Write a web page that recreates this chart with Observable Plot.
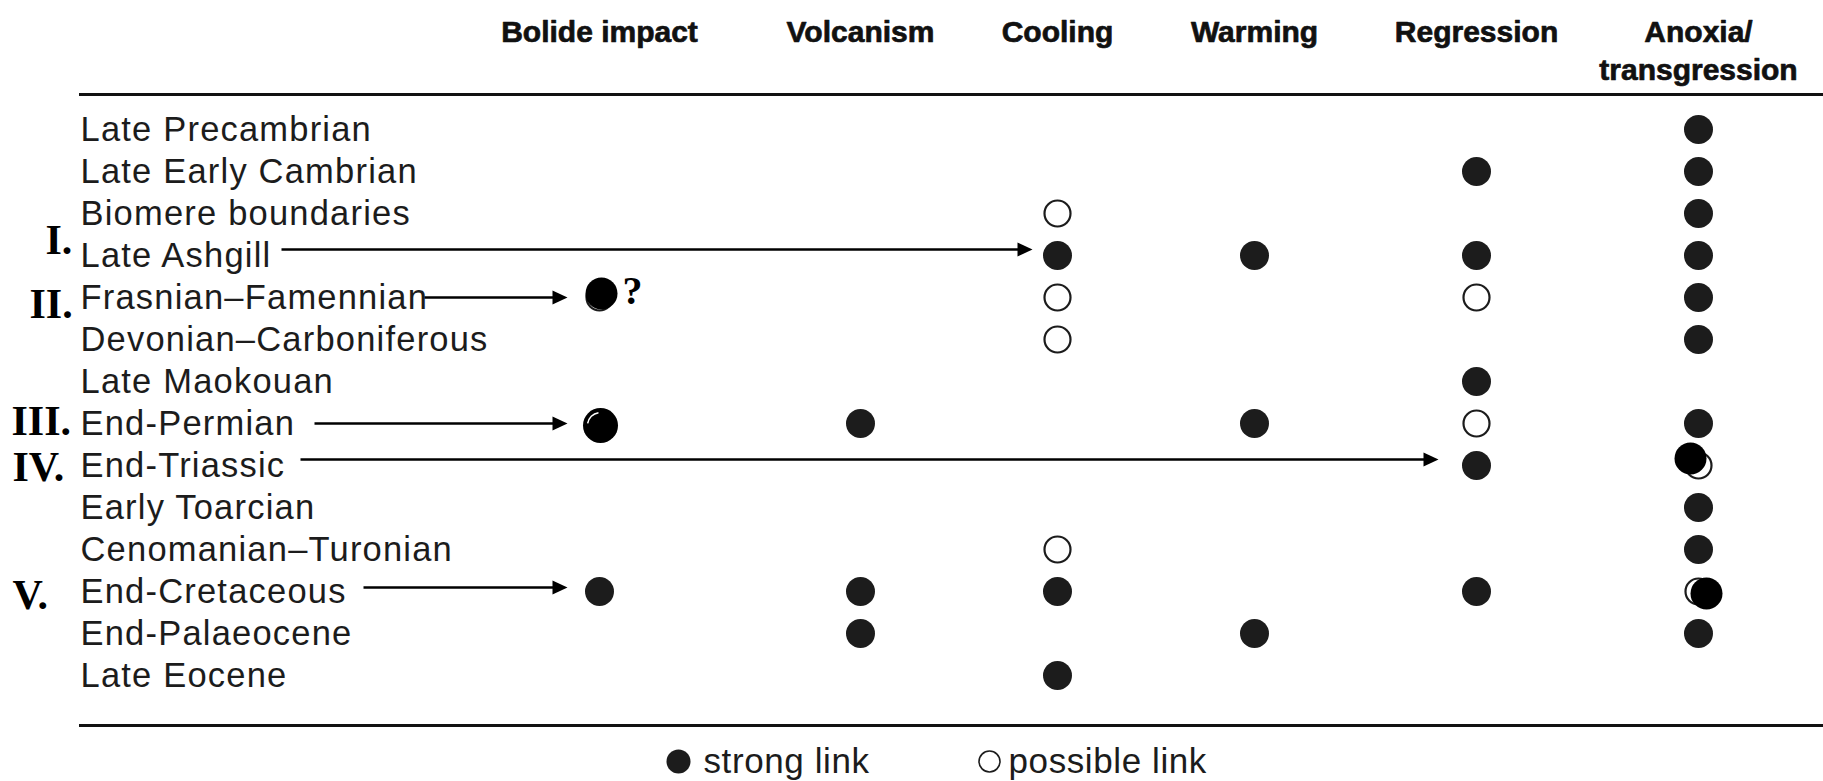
<!DOCTYPE html>
<html><head><meta charset="utf-8">
<script src="https://cdn.jsdelivr.net/npm/d3@7"></script>
<script src="https://cdn.jsdelivr.net/npm/@observablehq/plot@0.6"></script>
<style>
html,body{margin:0;padding:0;background:#fff;}
g[font-size="34.5"] text{letter-spacing:1.2px;}
g[font-size="35"] text{letter-spacing:0.6px;}
</style>
</head><body><div id="chart"></div>
<script>
// ---------- data ----------
const events = ["Late Precambrian", "Late Early Cambrian", "Biomere boundaries", "Late Ashgill",
  "Frasnian–Famennian", "Devonian–Carboniferous", "Late Maokouan", "End-Permian", "End-Triassic",
  "Early Toarcian", "Cenomanian–Turonian", "End-Cretaceous", "End-Palaeocene", "Late Eocene"];
const causes = ["Bolide impact", "Volcanism", "Cooling", "Warming", "Regression", "Anoxia/\ntransgression"];
// S = strong link, P = possible link (one entry per event, in event order)
const bolideImpact = ["", "", "", "", "P", "", "", "P", "", "", "", "S", "", ""];
const volcanism    = ["", "", "", "", "", "", "", "S", "", "", "", "S", "S", ""];
const cooling      = ["", "", "P", "S", "P", "P", "", "", "", "", "P", "S", "", "S"];
const warming      = ["", "", "", "S", "", "", "", "S", "", "", "", "", "S", ""];
const regression   = ["", "S", "", "S", "P", "", "S", "P", "S", "", "", "S", "", ""];
const anoxia       = ["S", "S", "S", "S", "S", "S", "", "S", "P", "S", "S", "P", "S", ""];
// hand-added strong links drawn over the original marks
const addedEvents = ["Frasnian–Famennian", "End-Permian", "End-Triassic", "End-Cretaceous"];
const addedCauses = ["Bolide impact", "Bolide impact", "Anoxia/\ntransgression", "Anoxia/\ntransgression"];
// arrow annotations
const romanNumerals = ["I.", "II.", "III.", "IV.", "V."];
const arrowEvents = ["Late Ashgill", "Frasnian–Famennian", "End-Permian", "End-Triassic", "End-Cretaceous"];
const arrowTargets = ["Cooling", "Bolide impact", "Bolide impact", "Regression", "Bolide impact"];
const legendLabels = ["strong link", "possible link"];

// ---------- layout ----------
const columns = [bolideImpact, volcanism, cooling, warming, regression, anoxia];
const cells = events.flatMap((e, i) => columns.map((col, j) => ({event: e, cause: j, link: col[i]}))).filter(d => d.link);
const causeIdx = c => causes.indexOf(c);

const xDomain = [-1, 0, 1, 2, 3, 4, 5];            // -1 = label column
const xRange = [80, 599, 860, 1057, 1254, 1476, 1698];
const xs = d3.scaleLinear().domain(xDomain).range(xRange);
const px = p => xs.invert(p);

const addedStyle = [
  {dx: 2, dy: -4, r: 16},
  {dx: 1, dy: 2, r: 17.5},
  {dx: -8, dy: -7, r: 16},
  {dx: 8, dy: 2, r: 16}
];
const arrowLayout = [
  {start: 281, gap: 25, dy: -6},
  {start: 424, gap: 32, dy: 0},
  {start: 314, gap: 32, dy: 0},
  {start: 300, gap: 38, dy: -6},
  {start: 363, gap: 32, dy: -4}
];
const romanLayout = [
  {left: 45, dy: -15}, {left: 29, dy: 7}, {left: 11, dy: -2}, {left: 12, dy: 2}, {left: 12, dy: 4}
];

const arrowHead = {draw(ctx) { ctx.moveTo(0, 0); ctx.lineTo(-15, -7); ctx.lineTo(-15, 7); ctx.closePath(); }};
const highlight = {draw(ctx) { ctx.arc(0, 0, 13, Math.PI * 1.05, Math.PI * 1.45); }};

const ink = "#1c1c1c";
const marks = [];

// rules
marks.push(Plot.ruleY([events[0]], {dy: 94 - 129, stroke: "#111", strokeWidth: 3}));
marks.push(Plot.ruleY([events[events.length - 1]], {dy: 725 - 675, stroke: "#111", strokeWidth: 3}));

// column headers
marks.push(Plot.text(causes, {x: (d, i) => i, y: () => events[0], text: d => d, dy: -115,
  lineAnchor: "top", lineHeight: 1.27, fontSize: 30, fontWeight: "bold", fill: "#111",
  stroke: "#111", strokeWidth: 0.7}));

// row labels
marks.push(Plot.text(events, {x: () => -1, y: d => d, text: d => d, textAnchor: "start",
  fontSize: 34.5, fill: ink}));

// links
marks.push(Plot.dot(cells.filter(d => d.link === "P"), {x: "cause", y: "event", r: 13,
  fill: "white", stroke: ink, strokeWidth: 2.2}));
marks.push(Plot.dot(cells.filter(d => d.link === "S"), {x: "cause", y: "event", r: 14.5, fill: ink}));

// hand-added strong links
addedEvents.forEach((e, i) => {
  const s = addedStyle[i];
  marks.push(Plot.dot([{event: e, cause: causeIdx(addedCauses[i])}], {x: "cause", y: "event",
    r: s.r, dx: s.dx, dy: s.dy, fill: "#000"}));
});
marks.push(Plot.dot([{event: addedEvents[1], cause: causeIdx(addedCauses[1])}], {x: "cause", y: "event",
  symbol: highlight, dx: 1, dy: 2, fill: "none", stroke: "white", strokeWidth: 1.5}));
marks.push(Plot.text(["?"], {x: () => px(622), y: () => addedEvents[0], text: d => d, dy: -6,
  textAnchor: "start", fontFamily: "'Liberation Serif', 'Times New Roman', serif", fontWeight: "bold", fontSize: 40, fill: "#000"}));

// arrows
arrowEvents.forEach((e, i) => {
  const a = arrowLayout[i];
  const tip = xs(causeIdx(arrowTargets[i])) - a.gap;
  marks.push(Plot.link([e], {x1: () => px(a.start), x2: () => px(tip - 8), y1: d => d, y2: d => d,
    dy: a.dy, stroke: "#000", strokeWidth: 2.5}));
  marks.push(Plot.dot([e], {x: () => px(tip), y: d => d, dy: a.dy, symbol: arrowHead, fill: "#000", stroke: "none"}));
  const r = romanLayout[i];
  marks.push(Plot.text([romanNumerals[i]], {x: () => px(r.left), y: () => e, text: d => d, dy: r.dy,
    textAnchor: "start", fontFamily: "'Liberation Serif', 'Times New Roman', serif", fontWeight: "bold",
    fontSize: 42, fill: "#000"}));
});

// legend
const last = events[events.length - 1];
marks.push(Plot.dot([0], {x: () => px(678), y: () => last, dy: 86, r: 12, fill: ink}));
marks.push(Plot.dot([0], {x: () => px(989), y: () => last, dy: 86, r: 10.5, fill: "white", stroke: ink, strokeWidth: 1.6}));
marks.push(Plot.text(legendLabels, {x: (d, i) => px([703, 1008][i]), y: () => last, text: d => d, dy: 86,
  textAnchor: "start", fontSize: 35, fill: ink}));

const chart = Plot.plot({
  width: 1823, height: 781,
  marginLeft: 79, marginRight: 0, marginTop: 93, marginBottom: 56,
  x: {type: "linear", domain: xDomain, range: xRange, axis: null},
  y: {type: "point", domain: events, range: [129, 675], padding: 0, axis: null},
  style: {fontFamily: "'Liberation Sans', Arial, Helvetica, sans-serif", background: "white", color: "#1a1a1a", overflow: "visible"},
  marks
});
document.getElementById("chart").appendChild(chart);
</script>
</body></html>
